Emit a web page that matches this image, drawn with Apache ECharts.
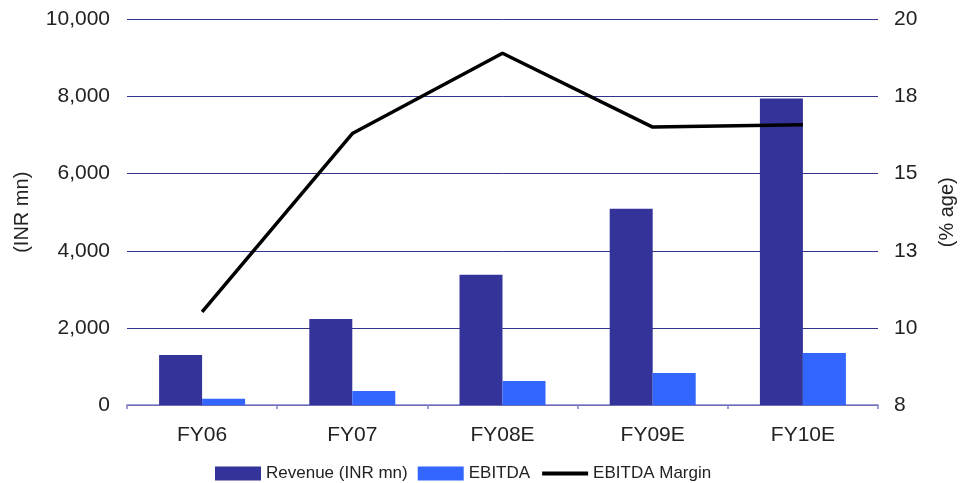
<!DOCTYPE html>
<html>
<head>
<meta charset="utf-8">
<title>Revenue, EBITDA and EBITDA Margin</title>
<script src="https://cdn.jsdelivr.net/npm/echarts@6/dist/echarts.min.js"></script>
<style>
  html, body { margin: 0; padding: 0; background: #ffffff; }
  #chart { width: 965px; height: 483px; }
</style>
</head>
<body>
<div id="chart"></div>
<script>
// Fiscal years shown on the category axis
const categories = ['FY06', 'FY07', 'FY08E', 'FY09E', 'FY10E'];
// Revenue in INR mn
const revenue = [1300, 2230, 3380, 5090, 7950];
// EBITDA in INR mn
const ebitda = [160, 360, 620, 830, 1350];
// EBITDA margin in percent
const ebitdaMargin = [10.9, 16.45, 18.95, 16.65, 16.72];

const font = 'Liberation Sans, Arial, Helvetica, sans-serif';
const textColor = '#222222';

const chart = echarts.init(document.getElementById('chart'), null, { renderer: 'canvas' });

chart.setOption({
  animation: false,
  backgroundColor: '#ffffff',
  textStyle: { fontFamily: font, color: textColor },
  grid: { left: 127, right: 86, top: 19.5, bottom: 78, containLabel: false },
  legend: {
    left: 210,
    top: 460,
    itemGap: 10,
    itemWidth: 46,
    itemHeight: 14,
    textStyle: { fontFamily: font, fontSize: 17, color: textColor },
    data: [
      { name: 'Revenue (INR mn)', icon: 'rect' },
      { name: 'EBITDA', icon: 'rect' },
      { name: 'EBITDA Margin', itemStyle: { opacity: 0 }, lineStyle: { width: 4, color: '#000000' } }
    ]
  },
  xAxis: {
    type: 'category',
    data: categories,
    boundaryGap: true,
    axisLine: { show: true, lineStyle: { color: '#8080c8', width: 1.5 } },
    axisTick: { show: true, length: 4, lineStyle: { color: '#8080c8', width: 1.5 } },
    axisLabel: { fontSize: 21, color: textColor, margin: 20, fontFamily: font }
  },
  yAxis: [
    {
      type: 'value',
      min: 0,
      max: 10000,
      interval: 2000,
      name: '(INR mn)',
      nameLocation: 'middle',
      nameGap: 95,
      nameRotate: 90,
      nameTextStyle: { fontSize: 20, color: textColor, fontFamily: font },
      axisLine: { show: false },
      axisTick: { show: false },
      axisLabel: {
        fontSize: 21, color: textColor, margin: 17, fontFamily: font,
        formatter: v => v.toLocaleString('en-US')
      },
      splitLine: { show: true, lineStyle: { color: '#333388', width: 1 } }
    },
    {
      type: 'value',
      min: 8,
      max: 20,
      interval: 2.4,
      name: '(% age)',
      nameLocation: 'middle',
      nameGap: 59,
      nameRotate: 90,
      nameTextStyle: { fontSize: 20, color: textColor, fontFamily: font },
      axisLine: { show: false },
      axisTick: { show: false },
      axisLabel: {
        fontSize: 21, color: textColor, margin: 16, fontFamily: font,
        formatter: v => String(Math.round(v))
      },
      splitLine: { show: false }
    }
  ],
  series: [
    {
      name: 'Revenue (INR mn)',
      type: 'bar',
      yAxisIndex: 0,
      data: revenue,
      barWidth: 43,
      barGap: '0%',
      itemStyle: { color: '#333399' }
    },
    {
      name: 'EBITDA',
      type: 'bar',
      yAxisIndex: 0,
      data: ebitda,
      barWidth: 43,
      barGap: '0%',
      itemStyle: { color: '#3366ff' }
    },
    {
      name: 'EBITDA Margin',
      type: 'line',
      yAxisIndex: 1,
      data: ebitdaMargin,
      symbol: 'none',
      z: 5,
      lineStyle: { color: '#000000', width: 3.5 },
      itemStyle: { color: '#000000' }
    }
  ]
});
</script>
</body>
</html>
